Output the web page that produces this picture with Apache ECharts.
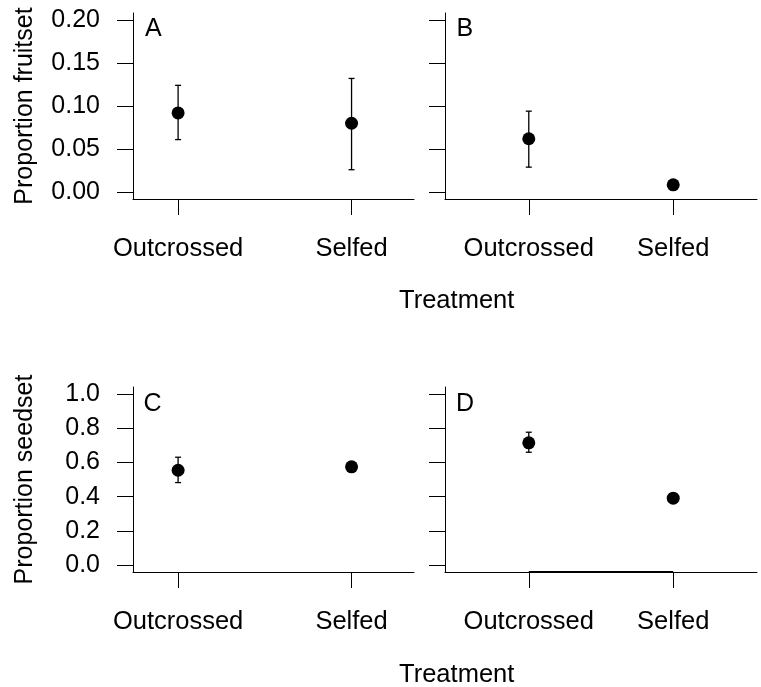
<!DOCTYPE html>
<html><head><meta charset="utf-8">
<script src="https://cdn.jsdelivr.net/npm/echarts@6/dist/echarts.min.js"></script>
<style>html,body{margin:0;padding:0;background:#fff}#c{width:761px;height:687px}</style>
</head><body><div id="c"></div>
<script>
// ---- data ----
const categories = ['Outcrossed', 'Selfed'];
const categoryX = [1, 2];
const fruitTicks = [0, 0.05, 0.10, 0.15, 0.20];
const seedTicks = [0, 0.2, 0.4, 0.6, 0.8, 1.0];
const fruitMeanA = [0.092, 0.080];
const fruitLowA  = [0.061, 0.026];
const fruitHighA = [0.124, 0.132];
const fruitMeanB = [0.062, 0.0085];
const fruitLowB  = [0.029, 0.005];
const fruitHighB = [0.094, 0.012];
const seedMeanC = [0.554, 0.574];
const seedLowC  = [0.482, 0.555];
const seedHighC = [0.630, 0.593];
const seedMeanD = [0.714, 0.391];
const seedLowD  = [0.659, 0.376];
const seedHighD = [0.776, 0.406];
const panelLetters = ['A', 'B', 'C', 'D'];
const xTitle = 'Treatment';
const yTitleTop = 'Proportion fruitset';
const yTitleBottom = 'Proportion seedset';

// ---- chart ----
const FONT = '"Liberation Sans", Arial, Helvetica, sans-serif';
const FS = 25;
const chart = echarts.init(document.getElementById('c'), null, {renderer: 'canvas'});

const grids = [
  {left: 133, top: 13, width: 281, height: 186},
  {left: 445, top: 13, width: 312, height: 186},
  {left: 133, top: 387, width: 281, height: 185},
  {left: 445, top: 387, width: 312, height: 185}
];
const xRanges = [[0.74, 2.36], [0.42, 2.58], [0.74, 2.36], [0.42, 2.58]];
const yRanges = [[-0.008, 0.208], [-0.008, 0.208], [-0.04, 1.04], [-0.04, 1.04]];

function xAxisCfg(i) {
  return {
    type: 'value', gridIndex: i, min: xRanges[i][0], max: xRanges[i][1],
    splitLine: {show: false},
    axisLine: {show: true, onZero: false, lineStyle: {color: '#000', width: 1}},
    axisTick: {show: true, length: 16, lineStyle: {color: '#000', width: 1}, customValues: categoryX},
    axisLabel: {
      show: true, customValues: categoryX, margin: 37,
      color: '#000', fontSize: 25.5, fontFamily: FONT,
      formatter: v => categories[categoryX.indexOf(Math.round(v))] || ''
    }
  };
}
function yAxisCfg(i) {
  const ticks = i < 2 ? fruitTicks : seedTicks;
  const dec = i < 2 ? 2 : 1;
  const showLabel = (i === 0 || i === 2);
  const cfg = {
    type: 'value', gridIndex: i, min: yRanges[i][0], max: yRanges[i][1],
    splitLine: {show: false},
    axisLine: {show: true, onZero: false, lineStyle: {color: '#000', width: 1}},
    axisTick: {show: true, length: 16, lineStyle: {color: '#000', width: 1}, customValues: ticks},
    axisLabel: {
      show: showLabel, customValues: ticks, margin: 33,
      color: '#000', fontSize: FS, fontFamily: FONT,
      formatter: v => Number(v).toFixed(dec)
    }
  };
  if (showLabel) {
    cfg.name = i === 0 ? yTitleTop : yTitleBottom;
    cfg.nameLocation = 'middle';
    cfg.nameRotate = 90;
    cfg.nameGap = 95;
    cfg.nameTextStyle = {color: '#000', fontSize: FS, fontFamily: FONT};
  }
  return cfg;
}

function errRender(params, api) {
  const x = api.value(0), lo = api.value(1), hi = api.value(2);
  const pLo = api.coord([x, lo]), pHi = api.coord([x, hi]);
  const cap = 3;
  const style = {stroke: '#000', lineWidth: 1.3, fill: null};
  return {type: 'group', children: [
    {type: 'line', shape: {x1: pLo[0], y1: pLo[1], x2: pHi[0], y2: pHi[1]}, style: style},
    {type: 'line', shape: {x1: pLo[0] - cap, y1: pLo[1], x2: pLo[0] + cap, y2: pLo[1]}, style: style},
    {type: 'line', shape: {x1: pHi[0] - cap, y1: pHi[1], x2: pHi[0] + cap, y2: pHi[1]}, style: style}
  ]};
}

const panels = [
  {mean: fruitMeanA, lo: fruitLowA, hi: fruitHighA},
  {mean: fruitMeanB, lo: fruitLowB, hi: fruitHighB},
  {mean: seedMeanC, lo: seedLowC, hi: seedHighC},
  {mean: seedMeanD, lo: seedLowD, hi: seedHighD}
];

const series = [];
panels.forEach((p, i) => {
  series.push({
    type: 'custom', xAxisIndex: i, yAxisIndex: i, renderItem: errRender,
    encode: {x: 0, y: [1, 2]}, silent: true, z: 2,
    data: categoryX.map((x, k) => [x, p.lo[k], p.hi[k]])
  });
  const sc = {
    type: 'scatter', xAxisIndex: i, yAxisIndex: i, symbol: 'circle', symbolSize: 13,
    itemStyle: {color: '#000', opacity: 1}, silent: true, z: 3,
    data: categoryX.map((x, k) => [x, p.mean[k]])
  };
  if (i === 3) {
    sc.markLine = {
      silent: true, symbol: ['none', 'none'], label: {show: false},
      lineStyle: {color: '#000', width: 2, type: 'solid', opacity: 1},
      data: [[{coord: [categoryX[0], yRanges[3][0]]}, {coord: [categoryX[1], yRanges[3][0]]}]]
    };
  }
  series.push(sc);
});

const letterPos = [[145, 29.5], [456.5, 29.5], [143.5, 404], [456, 404]];
const graphic = [];
panelLetters.forEach((t, i) => {
  graphic.push({type: 'text', x: letterPos[i][0], y: letterPos[i][1], silent: true,
    style: {text: t, fill: '#000', font: FS + 'px ' + FONT, textAlign: 'left', textVerticalAlign: 'middle'}});
});
[301, 674.5].forEach(y => {
  graphic.push({type: 'text', x: 456.7, y: y, silent: true,
    style: {text: xTitle, fill: '#000', font: '25.5px ' + FONT, textAlign: 'center', textVerticalAlign: 'middle'}});
});

chart.setOption({
  animation: false,
  backgroundColor: '#fff',
  grid: grids,
  xAxis: grids.map((g, i) => xAxisCfg(i)),
  yAxis: grids.map((g, i) => yAxisCfg(i)),
  series: series,
  graphic: graphic
});
</script>
</body></html>
